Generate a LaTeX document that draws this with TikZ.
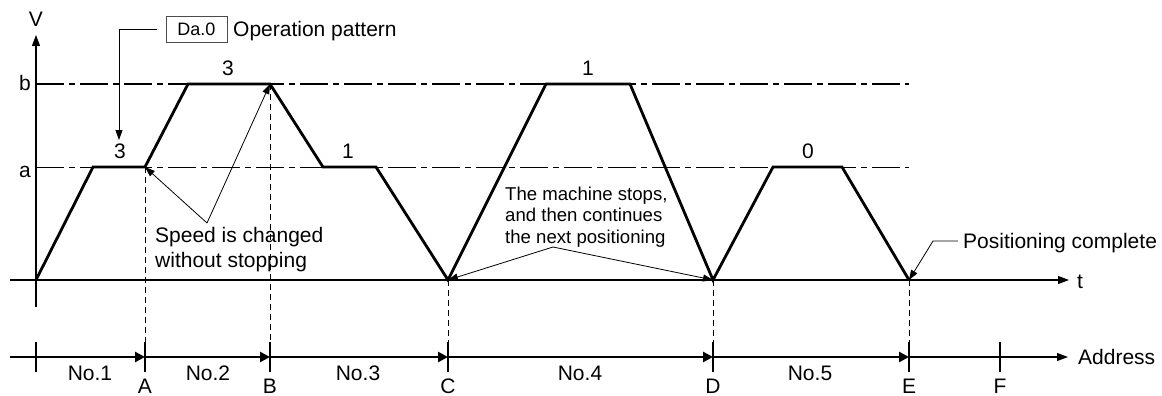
\documentclass[tikz,border=0pt]{standalone}
\usepackage{fontspec}
\setmainfont{Liberation Sans}
\usetikzlibrary{arrows.meta}
\begin{document}
\begin{tikzpicture}[x=1pt,y=-1pt,
  prof/.style={line width=2.8pt,line join=miter},
  thinln/.style={line width=0.8pt},
  axisln/.style={line width=1.1pt},
  tipthin/.style={-{Triangle[length=10pt,width=7pt]}},
  tipaxis/.style={-{Triangle[length=11pt,width=8pt]}},
  tipaddr/.style={-{Triangle[length=10pt,width=10pt]}},
  vdash/.style={line width=1pt,dash pattern=on 6pt off 4pt},
  levelln/.style={line width=1pt,dash pattern=on 28pt off 5pt on 6pt off 5pt},
  tickln/.style={line width=2.5pt},
  lbl/.style={inner sep=0pt,font=\fontsize{21}{24.5}\selectfont},
  small/.style={inner sep=0pt,font=\fontsize{18.6}{21.5}\selectfont},
  boxlbl/.style={inner sep=0pt,font=\fontsize{18}{21}\selectfont}]
\useasboundingbox (0,0) rectangle (1162,396);
% coordinates
\coordinate (o) at (36,280);
\coordinate (p1) at (93,167);
\coordinate (A) at (145,167);
\coordinate (p3) at (188,84);
\coordinate (B) at (270,84);
\coordinate (p5) at (323,167);
\coordinate (p6) at (376,167);
\coordinate (C) at (448,280);
\coordinate (p8) at (546,84);
\coordinate (p9) at (630,84);
\coordinate (D) at (713,280);
\coordinate (p11) at (773,167);
\coordinate (p12) at (842,167);
\coordinate (E) at (909,280);
% level lines
\coordinate (bL) at (36,84); \coordinate (bR) at (909,84);
\coordinate (aL) at (36,167); \coordinate (aR) at (909,167);
\draw[levelln] (bL) -- (bR);
\draw[levelln] (aL) -- (aR);
% axes
\coordinate (vbot) at (36,307); \coordinate (vtop) at (36,35);
\coordinate (tL) at (10,280); \coordinate (tR) at (1069,280);
\draw[axisln,tipaxis] (vbot) -- (vtop);
\draw[axisln,tipaxis] (tL) -- (tR);
\node[lbl,anchor=base] (V) at (36,27) {V};
\node[lbl,anchor=base west] (t) at (1077,288) {t};
\node[lbl,anchor=base] (la) at (25,177) {a};
\node[lbl,anchor=base] (lb) at (25,91) {b};
% profile
\draw[prof] (o) -- (p1) -- (A) -- (p3) -- (B) -- (p5) -- (p6) -- (C) -- (p8) -- (p9) -- (D) -- (p11) -- (p12) -- (E);
\node[lbl,anchor=base] (n1) at (120,158) {3};
\node[lbl,anchor=base] (n2) at (228,76) {3};
\node[lbl,anchor=base] (n3) at (348,158) {1};
\node[lbl,anchor=base] (n4) at (588,76) {1};
\node[lbl,anchor=base] (n5) at (808,158) {0};
% address axis
\coordinate (adL) at (10,357);
\coordinate (ad0) at (36,357);
\coordinate (adA) at (145,357);
\coordinate (adB) at (270,357);
\coordinate (adC) at (448,357);
\coordinate (adD) at (713,357);
\coordinate (adE) at (909,357);
\coordinate (adF) at (1000,357);
\coordinate (adR) at (1068,357);
\draw[axisln] (adL) -- (ad0);
\draw[tickln,tipaddr] (ad0) -- (adA);
\draw[tickln,tipaddr] (adA) -- (adB);
\draw[tickln,tipaddr] (adB) -- (adC);
\draw[tickln,tipaddr] (adC) -- (adD);
\draw[tickln,tipaddr] (adD) -- (adE);
\draw[axisln,tipaxis] (adE) -- (adR);
\foreach \x in {36,145,270,448,713,909,1000}
  \draw[tickln] (\x,342) -- (\x,372);
% vertical dashed
\foreach \x/\y in {145/167,270/84,448/280,713/280,909/280}
  \draw[vdash] (\x,\y) -- (\x,342);
\node[lbl,anchor=base] (no1) at (90,380) {No.1};
\node[lbl,anchor=base] (no2) at (208,380) {No.2};
\node[lbl,anchor=base] (no3) at (358,380) {No.3};
\node[lbl,anchor=base] (no4) at (580,380) {No.4};
\node[lbl,anchor=base] (no5) at (810,380) {No.5};
\node[lbl,anchor=base] (LA) at (145,393) {A};
\node[lbl,anchor=base] (LB) at (270,393) {B};
\node[lbl,anchor=base] (LC) at (448,393) {C};
\node[lbl,anchor=base] (LD) at (713,393) {D};
\node[lbl,anchor=base] (LE) at (909,393) {E};
\node[lbl,anchor=base] (LF) at (1000,393) {F};
\node[lbl,anchor=base west] (addr) at (1078,364) {Address};
% Da.0 operation pattern
\node[boxlbl,draw=black!70,line width=0.8pt,minimum width=61pt,minimum height=26pt] (da) at (196.5,29) {Da.0};
\node[lbl,anchor=base west] (op) at (233,37) {Operation pattern};
\coordinate (daL) at (157,29);
\coordinate (daT) at (119,140);
\draw[thinln,tipthin] (daL) -| (daT);
% speed changed
\node[lbl,anchor=base west,align=left] (spd) at (155,267) {Speed is changed\\without stopping};
\coordinate (sp) at (207,223);
\draw[thinln,tipthin] (sp) -- (A);
\draw[thinln,tipthin] (sp) -- (B);
% machine stops
\node[small,anchor=base west,align=left] (mach) at (505,243) {The machine stops,\\and then continues\\the next positioning};
\coordinate (mc) at (553,247);
\draw[thinln,tipthin] (mc) -- (C);
\draw[thinln,tipthin] (mc) -- (D);
% positioning complete
\node[lbl,anchor=base west] (pc) at (963,248) {Positioning complete};
\coordinate (pcL) at (958,241);
\coordinate (pcK) at (933,241);
\draw[thinln,tipthin] (pcL) -- (pcK) -- (E);
\end{tikzpicture}
\end{document}
